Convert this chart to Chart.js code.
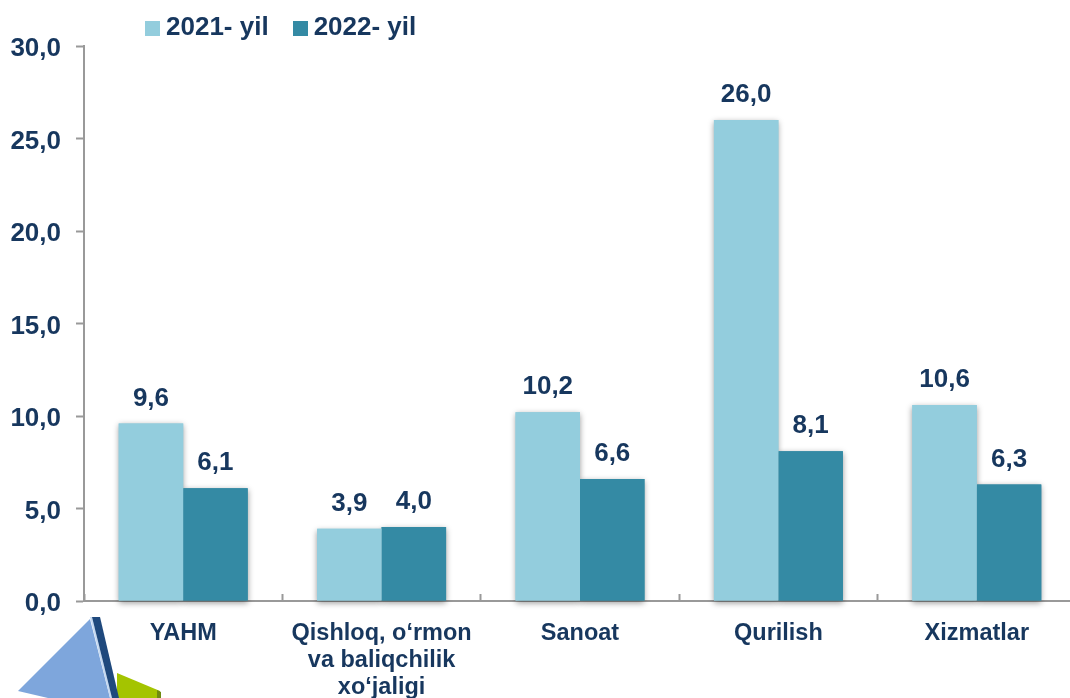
<!DOCTYPE html>
<html>
<head>
<meta charset="utf-8">
<style>
html, body { margin: 0; padding: 0; background: #fff; overflow: hidden; width: 1070px; height: 698px; }
#wrap { position: relative; width: 1076px; height: 698px; }
#logo { position: absolute; left: 0; top: 610px; }
</style>
</head>
<body>
<div id="wrap">
  <svg id="logo" width="170" height="88" viewBox="0 610 170 88">
    <polygon points="117,673 160,691 160,698 117,698" fill="#a4c400"/>
    <polygon points="157,690 161,692 161,698 157,698" fill="#6f8a10"/>
    <polygon points="18,691 90,619 110,698 48,698" fill="#7ea6dc"/>
    <polygon points="90,617 92,617 112,698 110,698" fill="#c5d9f1"/>
    <polygon points="92,617 100,617 119,698 112,698" fill="#1f497d"/>
  </svg>
  <canvas id="chart" width="1076" height="698"></canvas>
</div>
<script src="https://cdn.jsdelivr.net/npm/chart.js@4/dist/chart.umd.js"></script>
<script>
var categories = ['YAHM', ['Qishloq, o‘rmon', 'va baliqchilik', 'xo‘jaligi'], 'Sanoat', 'Qurilish', 'Xizmatlar'];
var seriesNames = ['2021- yil', '2022- yil'];
var values2021 = [9.6, 3.9, 10.2, 26.0, 10.6];
var values2022 = [6.1, 4.0, 6.6, 8.1, 6.3];
var yMax = 30;
var yStep = 5;

var TEXT = '#17375e';
var AXIS = '#999999';
var FONT = '"Liberation Sans", Arial, sans-serif';

function comma(v) {
    return v.toFixed(1).replace('.', ',');
}

// small square used as legend swatch, so text sits close to it
function swatch(color) {
    var c = document.createElement('canvas');
    c.width = 15;
    c.height = 15;
    var g = c.getContext('2d');
    g.fillStyle = color;
    g.fillRect(0, 0, 15, 15);
    return c;
}

// shadows go in a pass of their own, so no bar throws one on its neighbour
var barShadow = {
    id: 'barShadow',
    beforeDatasetsDraw: function(chart) {
        var ctx = chart.ctx;
        ctx.save();
        ctx.shadowColor = 'rgba(0,0,0,0.4)';
        ctx.shadowBlur = 6;
        ctx.shadowOffsetX = 0;
        ctx.shadowOffsetY = 2;
        chart.data.datasets.forEach(function(ds, i) {
            chart.getDatasetMeta(i).data.forEach(function(bar) {
                bar.draw(ctx);
            });
        });
        ctx.restore();
    }
};

var valueLabels = {
    id: 'valueLabels',
    afterDraw: function(chart) {
        var ctx = chart.ctx;
        ctx.save();
        ctx.font = 'bold 26px ' + FONT;
        ctx.fillStyle = TEXT;
        ctx.textAlign = 'center';
        ctx.textBaseline = 'middle';
        chart.data.datasets.forEach(function(ds, i) {
            chart.getDatasetMeta(i).data.forEach(function(bar, j) {
                ctx.fillText(comma(ds.data[j]), bar.x, bar.y - 25);
            });
        });
        ctx.restore();
    }
};

// legend sits above the plot at a fixed place, its height does not follow label padding
var placeLegend = {
    id: 'placeLegend',
    beforeLayout: function(chart) {
        var legend = chart.legend;
        if (legend.fixedFit) return;
        var fit = legend.fit;
        legend.fit = function() {
            fit.call(this);
            this.height = 46;
        };
        legend.fixedFit = true;
    },
    afterLayout: function(chart) {
        chart.legend.left = 121;
        chart.legend.top = -16;
    },
    beforeDraw: function(chart) {
        var items = chart.scales.y.getLabelItems();
        if (items.shifted) return;
        items.forEach(function(item) {
            item.options.translation[1] += 3;
        });
        items.shifted = true;
    }
};

new Chart(document.getElementById('chart'), {
    type: 'bar',
    data: {
        labels: categories,
        datasets: [
            { label: seriesNames[0], data: values2021, backgroundColor: '#93cddd' },
            { label: seriesNames[1], data: values2022, backgroundColor: '#348aa4' }
        ]
    },
    plugins: [barShadow, valueLabels, placeLegend],
    options: {
        responsive: false,
        animation: false,
        layout: { padding: 0 },
        datasets: { bar: { categoryPercentage: 0.65, barPercentage: 1 } },
        plugins: {
            tooltip: { enabled: false },
            legend: {
                position: 'top',
                align: 'start',
                labels: {
                    usePointStyle: true,
                    pointStyleWidth: 1,
                    padding: 31,
                    color: TEXT,
                    font: { family: FONT, size: 26, weight: 'bold' },
                    generateLabels: function(chart) {
                        return Chart.defaults.plugins.legend.labels.generateLabels(chart).map(function(item) {
                            item.pointStyle = swatch(chart.data.datasets[item.datasetIndex].backgroundColor);
                            return item;
                        });
                    }
                }
            }
        },
        scales: {
            x: {
                afterFit: function(scale) { scale.height = 97; },
                border: { color: AXIS, width: 2 },
                grid: { drawOnChartArea: false, tickLength: -7, tickColor: AXIS, tickWidth: 2 },
                ticks: {
                    padding: 26,
                    color: TEXT,
                    maxRotation: 0,
                    autoSkip: false,
                    font: { family: FONT, size: 23.5, weight: 'bold', lineHeight: 1.15 }
                }
            },
            y: {
                min: 0,
                max: yMax,
                afterFit: function(scale) { scale.width = 84; },
                border: { color: AXIS, width: 2 },
                grid: { drawOnChartArea: false, tickLength: 8, tickColor: AXIS, tickWidth: 2 },
                ticks: {
                    stepSize: yStep,
                    padding: 15,
                    color: TEXT,
                    font: { family: FONT, size: 26, weight: 'bold' },
                    callback: function(v) { return comma(v); }
                }
            }
        }
    }
});
</script>
</body>
</html>
